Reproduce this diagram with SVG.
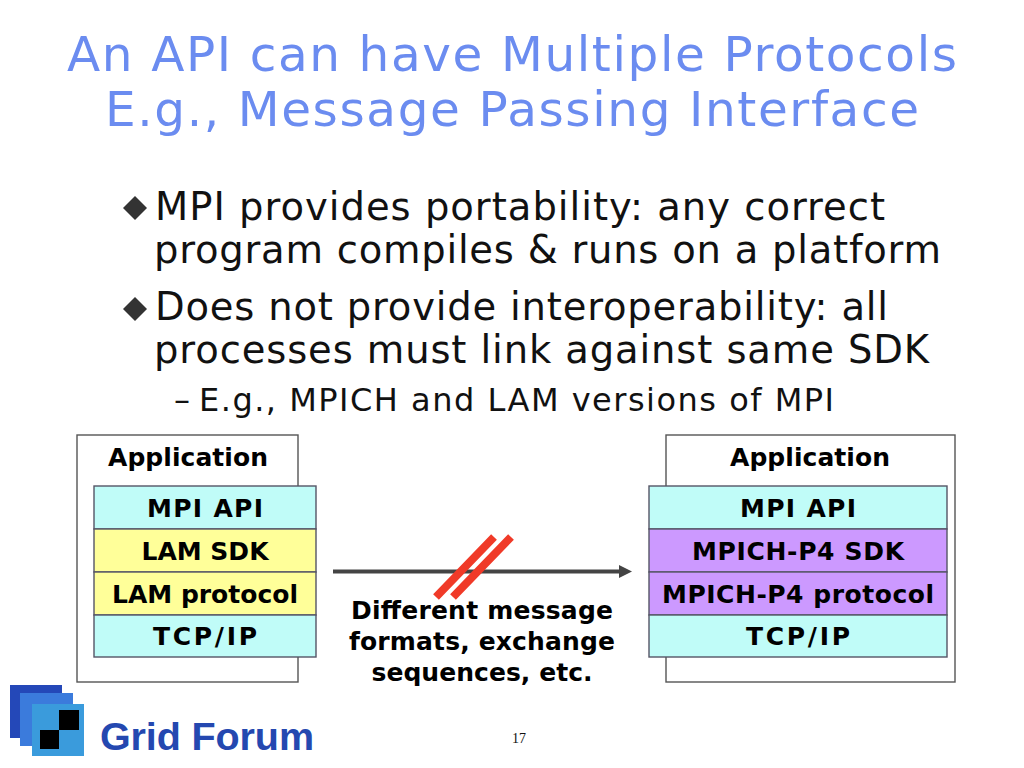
<svg xmlns="http://www.w3.org/2000/svg" width="1024" height="768" viewBox="0 0 1024 768">
<style>
text{font-family:"DejaVu Sans",Verdana,sans-serif}
.t{font-size:48.5px;fill:#6b8cf0;text-anchor:middle}
.b{font-size:38.5px;fill:#111}
.s{font-size:32px;fill:#111}
.l{font-size:25px;font-weight:bold;fill:#000;text-anchor:middle}
.box{stroke:#555;stroke-width:1.4;fill:#fff}
.c{fill:#c0fcf8;stroke:#556;stroke-width:1.4}
.y{fill:#ffff99;stroke:#556;stroke-width:1.4}
.p{fill:#cc99ff;stroke:#556;stroke-width:1.4}
</style>
<rect width="1024" height="768" fill="#fff"/>
<text class="t" x="512" y="71" textLength="890">An API can have Multiple Protocols</text>
<text class="t" x="512" y="126" textLength="814">E.g., Message Passing Interface</text>
<path d="M135 196L147 208L135 220L123 208Z" fill="#333"/>
<text class="b" x="155" y="220" textLength="730">MPI provides portability: any correct</text>
<text class="b" x="154" y="263" textLength="787">program compiles &amp; runs on a platform</text>
<path d="M135 297L147 309L135 321L123 309Z" fill="#333"/>
<text class="b" x="155" y="320" textLength="733">Does not provide interoperability: all</text>
<text class="b" x="154" y="363" textLength="775">processes must link against same SDK</text>
<text class="s" x="174" y="411">–</text>
<text class="s" x="199" y="411" textLength="635">E.g., MPICH and LAM versions of MPI</text>
<g id="left-stack">
<rect class="box" x="77" y="435" width="221" height="247"/>
<text class="l" x="188" y="466" textLength="160">Application</text>
<rect class="c" x="94" y="486" width="222" height="43"/><text class="l" x="205" y="517" textLength="116">MPI API</text>
<rect class="y" x="94" y="529" width="222" height="43"/><text class="l" x="205" y="560" textLength="127">LAM SDK</text>
<rect class="y" x="94" y="572" width="222" height="43"/><text class="l" x="205" y="603" textLength="186">LAM protocol</text>
<rect class="c" x="94" y="615" width="222" height="42"/><text class="l" x="205" y="645" textLength="104">TCP/IP</text>
</g>
<g id="right-stack">
<rect class="box" x="666" y="435" width="289" height="247"/>
<text class="l" x="810" y="466" textLength="160">Application</text>
<rect class="c" x="649" y="486" width="298" height="43"/><text class="l" x="798" y="517" textLength="116">MPI API</text>
<rect class="p" x="649" y="529" width="298" height="43"/><text class="l" x="798" y="560" textLength="212">MPICH-P4 SDK</text>
<rect class="p" x="649" y="572" width="298" height="43"/><text class="l" x="798" y="603" textLength="272">MPICH-P4 protocol</text>
<rect class="c" x="649" y="615" width="298" height="42"/><text class="l" x="798" y="645" textLength="104">TCP/IP</text>
</g>
<g id="connectors">
<path d="M333 571.5H620" stroke="#444" stroke-width="4" fill="none"/>
<path d="M619 565L632 571.5L619 578Z" fill="#444"/>
<path d="M436 597L494 537M453 597L511 537" stroke="#f03a28" stroke-width="8" fill="none"/>
</g>
<g id="note">
<text class="l" x="482" y="619" textLength="262">Different message</text>
<text class="l" x="482" y="650" textLength="266">formats, exchange</text>
<text class="l" x="482" y="681" textLength="221">sequences, etc.</text>
</g>
<g id="logo">
<rect x="10" y="685" width="52" height="53" fill="#2448b8"/>
<rect x="20" y="693" width="53" height="53" fill="#3b7bdc"/>
<rect x="32" y="704" width="52" height="52" fill="#3a9bdc"/>
<rect x="40" y="730" width="19" height="19" fill="#000"/>
<rect x="59" y="710" width="20" height="20" fill="#000"/>
<text x="100" y="750" textLength="214" style="font-family:'Liberation Sans',sans-serif;font-size:39.5px;font-weight:bold;fill:#2448b0">Grid Forum</text>
</g>
<text x="519" y="743" style="font-family:'Liberation Serif',serif;font-size:14px;fill:#111" text-anchor="middle">17</text>
</svg>
